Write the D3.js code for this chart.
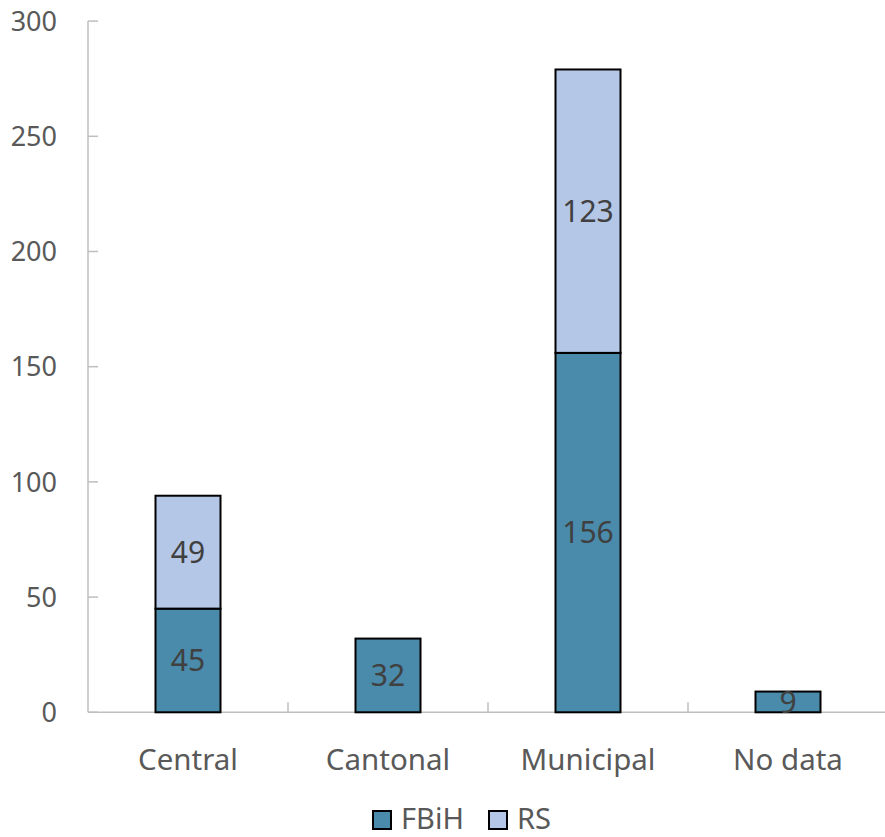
<!DOCTYPE html>
<html><head><meta charset="utf-8">
<script src="https://cdn.jsdelivr.net/npm/d3@7"></script>
<style>body{margin:0;background:#fff}svg{display:block}text{font-family:"Noto Sans",sans-serif}</style>
</head><body><svg id="c" width="885" height="837"></svg>
<script>
const categories = ["Central","Cantonal","Municipal","No data"];
const seriesNames = ["FBiH","RS"];
const fbih = [45,32,156,9];
const rs = [49,0,123,0];
const yTicks = [0,50,100,150,200,250,300];
const colors = ["#4a8aab","#b4c7e7"];

const svg = d3.select("#c");
const x = d3.scaleBand().domain(categories).range([88,888]).paddingInner(0.675).paddingOuter(0.3375);
const y = d3.scaleLinear().domain([0,300]).range([712.3,21.1]);
const xb = d3.scaleBand().domain(categories).range([88,888]);

const data = categories.map((c,i)=>({cat:c, FBiH:fbih[i], RS:rs[i]}));
const stacked = d3.stack().keys(seriesNames)(data);

// axes
const axisColor = "#bfbfbf";
svg.append("line").attr("x1",88).attr("x2",88).attr("y1",y(300)).attr("y2",y(0)).attr("stroke",axisColor).attr("stroke-width",1.5);
svg.append("line").attr("x1",88).attr("x2",885).attr("y1",y(0)).attr("y2",y(0)).attr("stroke",axisColor).attr("stroke-width",1.5);
svg.selectAll(".yt").data(yTicks).join("line").attr("x1",88).attr("x2",98).attr("y1",d=>y(d)).attr("y2",d=>y(d)).attr("stroke",axisColor).attr("stroke-width",1.5);
svg.selectAll(".ytl").data(yTicks).join("text").attr("x",57).attr("y",d=>y(d)).attr("dy","0.36em").attr("text-anchor","end").attr("font-size",27).attr("fill","#595959").text(d=>d);
svg.selectAll(".xt").data(categories.slice(1)).join("line").attr("x1",d=>xb(d)).attr("x2",d=>xb(d)).attr("y1",y(0)).attr("y2",y(0)-10).attr("stroke",axisColor).attr("stroke-width",1.5);
svg.selectAll(".xtl").data(categories).join("text").attr("x",d=>xb(d)+xb.bandwidth()/2).attr("y",770).attr("text-anchor","middle").attr("font-size",29.5).attr("fill","#595959").text(d=>d);

// bars
stacked.forEach((s,si)=>{
  const g = svg.append("g");
  s.forEach(d=>{
    const v = d[1]-d[0];
    if(v<=0) return;
    g.append("rect").attr("x",x(d.data.cat)).attr("width",x.bandwidth()).attr("y",y(d[1])).attr("height",y(d[0])-y(d[1]))
      .attr("fill",colors[si]).attr("stroke","#000").attr("stroke-width",2);
  });
});
stacked.forEach((s,si)=>{
  s.forEach(d=>{
    const v = d[1]-d[0];
    if(v<=0) return;
    svg.append("text").attr("x",x(d.data.cat)+x.bandwidth()/2).attr("y",(y(d[0])+y(d[1]))/2).attr("dy","0.36em")
      .attr("text-anchor","middle").attr("font-size",30).attr("fill","#404040").text(v);
  });
});

// legend
const leg = [{name:"FBiH",x:373,tx:401},{name:"RS",x:489,tx:517}];
leg.forEach((l,i)=>{
  svg.append("rect").attr("x",l.x).attr("y",811).attr("width",18).attr("height",18).attr("fill",colors[i]).attr("stroke","#000").attr("stroke-width",2);
  svg.append("text").attr("x",l.tx).attr("y",829).attr("font-size",29).attr("fill","#595959").text(l.name);
});
</script></body></html>
